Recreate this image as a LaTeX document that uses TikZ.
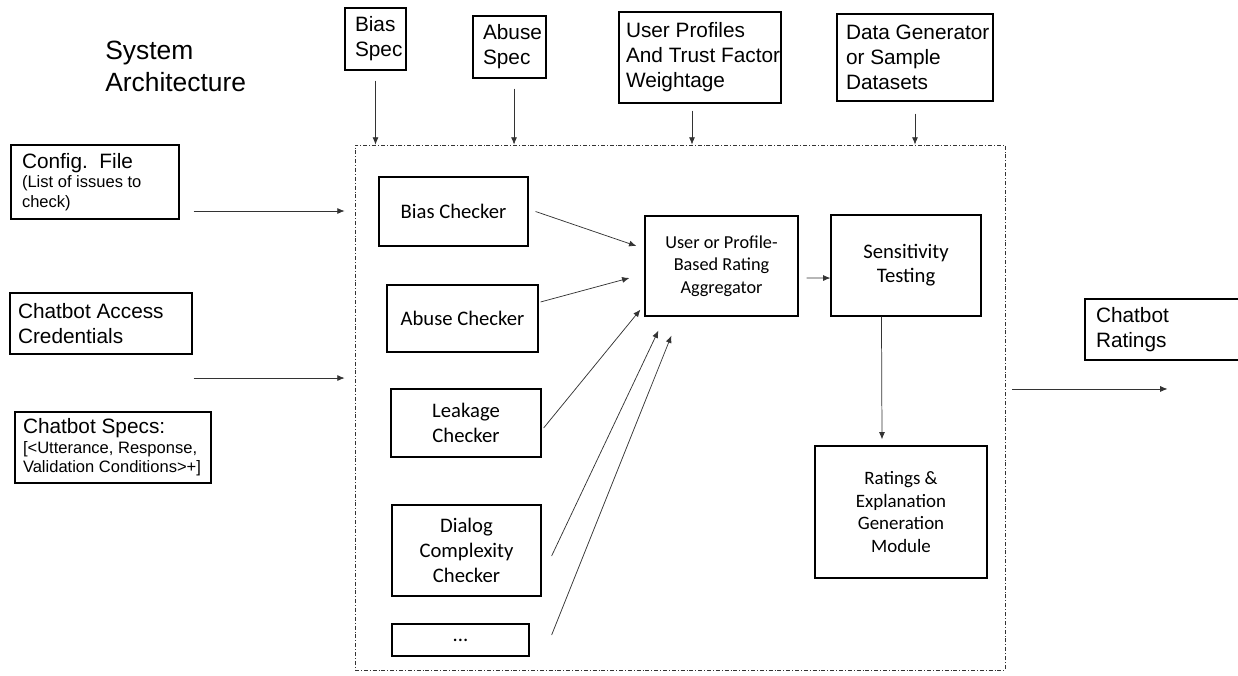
\documentclass[tikz,border=0pt]{standalone}
\usepackage{fontspec}
\setmainfont{Liberation Sans}
\newfontfamily\calfont{Carlito}
\usetikzlibrary{arrows.meta, positioning}

\begin{document}
\begin{tikzpicture}[
  x=0.75pt, y=-0.75pt,
  inputbox/.style={
    draw=black,
    line width=0.9pt,
    align=flush left,
    inner ysep=0pt,
    font=\fontsize{15.6}{18.75}\selectfont,
  },
  smallnote/.style={
    font=\fontsize{12.4}{14.5}\selectfont,
  },
  checkbox/.style={
    draw=black,
    line width=0.9pt,
    align=center,
    inner sep=0pt,
    font=\calfont\fontsize{15.5}{19}\selectfont,
  },
  sysframe/.style={
    draw=black!80,
    line width=0.6pt,
    dash pattern=on 3pt off 1.5pt on 0.6pt off 1.5pt,
    inner sep=0pt,
  },
  arr/.style={
    draw=black!80,
    line width=0.55pt,
    -{Latex[length=5.5pt,width=4.5pt]},
  }
]
  \clip (0,0) rectangle (1238,675);

  % === Title ===
  \node[anchor=west, align=left, inner sep=0pt, font=\fontsize{19.8}{24}\selectfont] (title) at (105,66) {System\\Architecture};

  % === System boundary (dash-dot) ===
  \node[sysframe, minimum width=487.5pt, minimum height=393.75pt] (sys) at (680,407.5) {};

  % === Inputs from above ===
  \node[inputbox, text width=30.75pt, inner xsep=7.5pt, minimum height=46.5pt] (b-spec) at (375.5,39) {Bias\\Spec};
  \node[inputbox, text width=39.75pt, inner xsep=7.5pt, minimum height=46.5pt] (a-spec) at (509.5,47) {Abuse\\Spec};
  \node[inputbox, text width=111pt, inner xsep=5.25pt, minimum height=68.25pt] (u-prof) at (700,57.5) {User Profiles\\\mbox{And Trust Factor}\\Weightage};
  \node[inputbox, text width=103.5pt, inner xsep=6.75pt, minimum height=65.25pt] (d-gen) at (915,57.5) {\mbox{Data Generator}\\or Sample\\Datasets};

  % === Inputs from the left ===
  \node[inputbox, smallnote, text width=109.5pt, inner xsep=8.25pt, minimum height=55.5pt] (cfg) at (95,182) {{\fontsize{15.6}{18.75}\selectfont Config.~~File}\\(List of issues to\\check)};
  \node[inputbox, text width=124.5pt, inner xsep=6pt, minimum height=45.75pt] (cred) at (101,323.5) {Chatbot Access\\Credentials};
  \node[inputbox, smallnote, text width=135pt, inner xsep=6pt, minimum height=53.25pt] (specs) at (113,447.5) {{\fontsize{15.6}{18.75}\selectfont Chatbot Specs:}\\{}[<Utterance, Response,\\Validation Conditions>+]};

  % === Output ===
  \node[inputbox, text width=107.25pt, inner xsep=8.25pt, minimum height=45.75pt] (c-rat) at (1167.5,329.5) {Chatbot\\Ratings};

  % === Checkers ===
  \node[checkbox, minimum width=111.75pt, minimum height=51.75pt] (bias-c) at (453.5,211.5) {Bias Checker};
  \node[checkbox, minimum width=113.25pt, minimum height=50.25pt] (abuse-c) at (462.5,318.5) {Abuse Checker};
  \node[checkbox, minimum width=112.5pt, minimum height=51pt] (leak-c) at (466,423) {Leakage\\Checker};
  \node[checkbox, minimum width=111.75pt, minimum height=68.25pt] (dlg-c) at (466.5,550.5) {Dialog\\Complexity\\Checker};
  \node[checkbox, minimum width=102.75pt, minimum height=24pt] (more-c) at (460.5,640) {...};

  % === Aggregation and output modules ===
  \node[checkbox, minimum width=114.75pt, minimum height=75pt, font=\calfont\fontsize{13.7}{17}\selectfont] (agg) at (721.5,266) {User or Profile-\\Based Rating\\Aggregator};
  \node[checkbox, minimum width=112.5pt, minimum height=75.75pt, font=\calfont\fontsize{15.5}{17.5}\selectfont, text depth=3pt] (sens) at (906,265.5) {Sensitivity\\Testing};
  \node[checkbox, minimum width=129pt, minimum height=99pt, font=\calfont\fontsize{14.2}{17}\selectfont] (rat) at (901,512) {Ratings \&\\Explanation\\Generation\\Module};

  % arrows into the system boundary
  \coordinate (a-in) at ([xshift=3.4pt]a-spec.south);
  \coordinate (u-in) at ([xshift=-6pt]u-prof.south);
  \draw[arr, shorten <=7.5pt] (b-spec.south) -- (b-spec.south |- sys.north);
  \draw[arr, shorten <=7.5pt] (a-in) -- (a-in |- sys.north);
  \draw[arr, shorten <=5.25pt] (u-in) -- (u-in |- sys.north);
  \draw[arr, shorten <=9pt] (d-gen.south) -- (d-gen.south |- sys.north);

  \coordinate (cfg-out) at ([xshift=10.5pt,yshift=-21.75pt]cfg.east);
  \coordinate (cred-out) at ([xshift=0.75pt,yshift=-40.9pt]cred.east);
  \draw[arr, shorten >=7.5pt] (cfg-out) -- (cfg-out -| sys.west);
  \draw[arr, shorten >=7.5pt] (cred-out) -- (cred-out -| sys.west);

  % checkers feed the aggregator
  \draw[arr] ([xshift=5.25pt]bias-c.east) -- ([xshift=-6pt,yshift=15pt]agg.west);
  \draw[arr] ([xshift=1.5pt,yshift=12.4pt]abuse-c.east) -- ([xshift=-11.25pt,yshift=-9pt]agg.west);
  \draw[arr] ([xshift=1.5pt,yshift=-3.75pt]leak-c.east) -- ([xshift=-3pt,yshift=5.25pt]agg.south west);
  \draw[arr] ([xshift=7.5pt,yshift=-4.1pt]dlg-c.east) -- ([xshift=10.5pt,yshift=-10.5pt]agg.south west);
  \draw[arr] ([xshift=16.5pt,yshift=3.75pt]more-c.east) -- ([xshift=20.25pt,yshift=-14.25pt]agg.south west);

  % aggregator -> sensitivity -> ratings
  \draw[arr] ([xshift=6pt,yshift=-9pt]agg.east) -- ([yshift=-9.4pt]sens.west);
  \draw[arr] ([xshift=-18.4pt]sens.south) -- ([xshift=-14.25pt,yshift=4.5pt]rat.north);

  % system output
  \coordinate (sys-out) at ([xshift=5.25pt,yshift=13.9pt]sys.east);
  \draw[arr] (sys-out) -- (sys-out -| c-rat.south);

\end{tikzpicture}
\end{document}
